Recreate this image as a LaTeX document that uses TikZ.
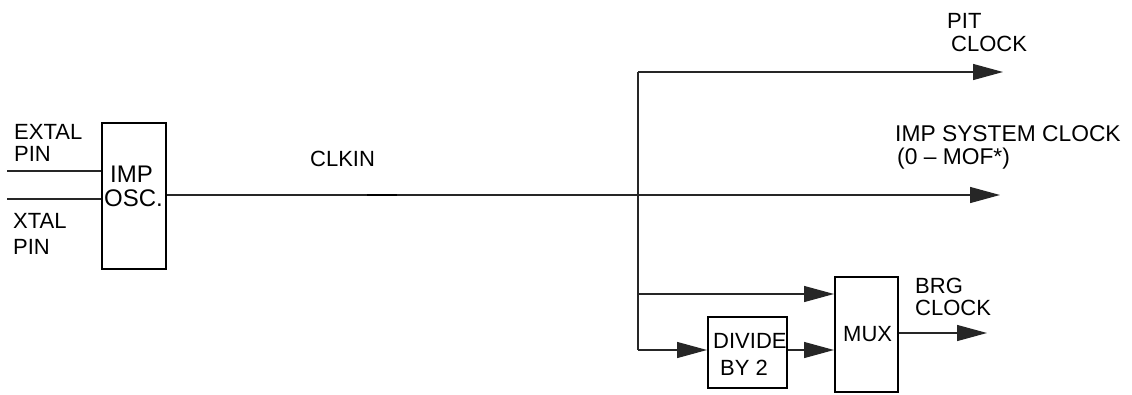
\documentclass[tikz,border=0pt]{standalone}
\usepackage{fontspec}
\setmainfont{Liberation Sans}
\usetikzlibrary{arrows.meta}
\begin{document}
\begin{tikzpicture}[x=1pt,y=-1pt,
  wire/.style={line width=1.3pt, draw=black!85},
  arr/.style={wire, -{Triangle[length=30pt,width=16pt]}},
  blk/.style={draw, line width=2pt, rectangle, inner sep=0pt},
  lbl/.style={anchor=base west, inner sep=0pt, font=\fontsize{22}{22}\selectfont},
  big/.style={lbl, font=\fontsize{24}{24}\selectfont},
  sys/.style={lbl, font=\fontsize{22.8}{23}\selectfont}]
\useasboundingbox (0,0) rectangle (1132,394);
% blocks
\node[blk, minimum width=64pt, minimum height=146pt] (osc) at (134,196) {};
\node[blk, minimum width=79pt, minimum height=71pt] (div) at (747.5,352.5) {};
\node[blk, minimum width=63pt, minimum height=115pt] (mux) at (866.5,334.5) {};
% coordinates
\coordinate (extal) at (7,171);
\coordinate (xtal) at (7,199);
\coordinate (vtop) at (638,72);
\coordinate (vbot) at (638,350);
\coordinate (pit) at (1003,72);
\coordinate (sys) at (1000,195);
\coordinate (muxin) at (638,294);
\coordinate (brg) at (987,333);
\coordinate (ckA) at (367,194.5);
\coordinate (ckB) at (397,194.5);
% wires
\draw[wire] (extal) -- (extal -| osc.west);
\draw[wire] (xtal) -- (xtal -| osc.west);
\draw[arr] (osc.east |- sys) -- (sys);
\draw[line width=2pt] (ckA) -- (ckB);
\draw[wire] (vtop) -- (vbot);
\draw[arr] (vtop) -- (pit);
\draw[arr] (muxin) -- (muxin -| mux.west);
\draw[arr] (vbot) -- (vbot -| div.west);
\draw[arr] (div.east |- vbot) -- (vbot -| mux.west);
\draw[arr] (mux.east |- brg) -- (brg);
% labels
\node[lbl] (l1) at (14,139) {EXTAL};
\node[lbl] (l2) at (14,161) {PIN};
\node[lbl] (l3) at (13,228) {XTAL};
\node[lbl] (l4) at (13,254) {PIN};
\node[big] (l5) at (110,182) {IMP};
\node[big] (l6) at (104,206) {OSC.};
\node[lbl] (l7) at (310,166) {CLKIN};
\node[lbl] (l8) at (947,28) {PIT};
\node[lbl] (l9) at (951,51) {CLOCK};
\node[sys] (l10) at (895,141) {IMP SYSTEM CLOCK};
\node[sys] (l11) at (897,164) {(0 – MOF*)};
\node[lbl] (l12) at (915,293) {BRG};
\node[lbl] (l13) at (915,315) {CLOCK};
\node[lbl] (l14) at (713,348) {DIVIDE};
\node[lbl] (l15) at (720,375) {BY 2};
\node[lbl] (l16) at (843,341) {MUX};
\end{tikzpicture}
\end{document}
